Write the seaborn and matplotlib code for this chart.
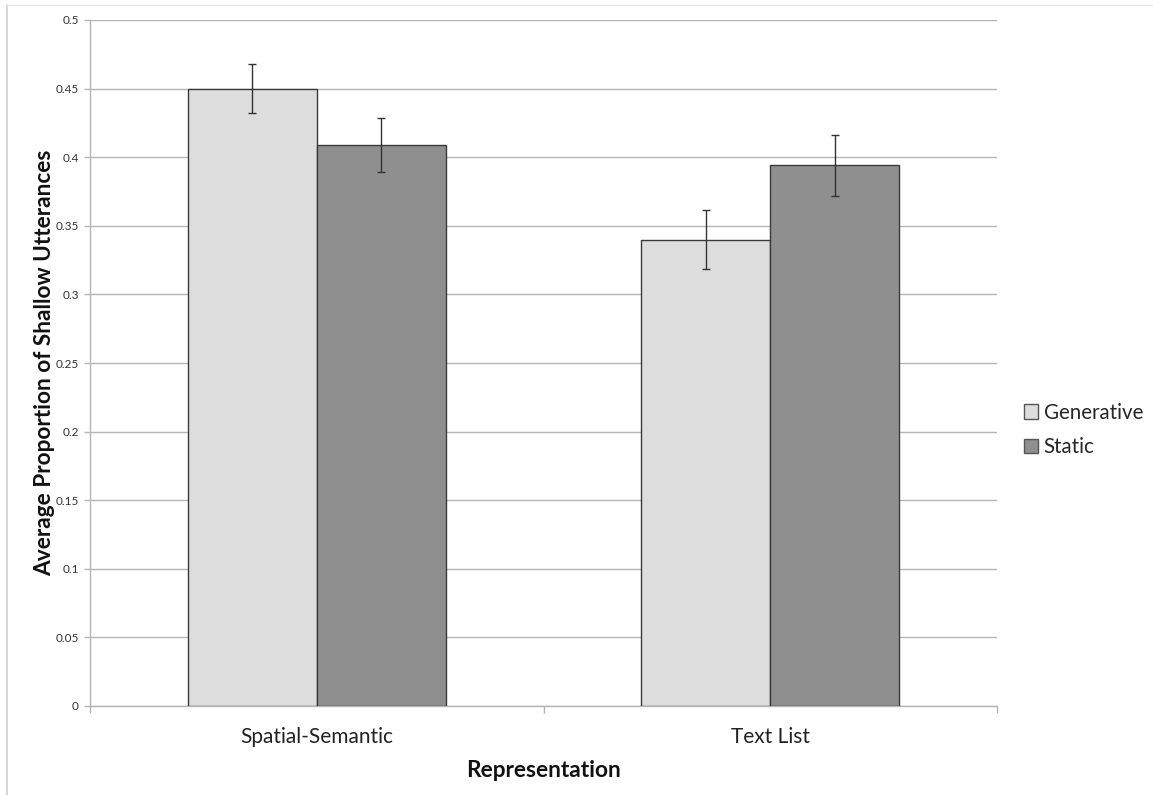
import matplotlib
matplotlib.use("Agg")
import matplotlib.pyplot as plt
import seaborn as sns
import pandas as pd
import numpy as np
from matplotlib.lines import Line2D
from matplotlib.patches import Patch

categories = ["Spatial-Semantic", "Text List"]
conditions = ["Generative", "Static"]
generative_vals = [0.450, 0.340]
static_vals = [0.409, 0.394]
generative_err = [0.018, 0.0215]
static_err = [0.0195, 0.022]
yticks = [0, 0.05, 0.1, 0.15, 0.2, 0.25, 0.3, 0.35, 0.4, 0.45, 0.5]
ytick_labels = ["0", "0.05", "0.1", "0.15", "0.2", "0.25", "0.3", "0.35", "0.4", "0.45", "0.5"]

colors = {"Generative": "#dddddd", "Static": "#8f8f8f"}

df = pd.DataFrame({
    "Representation": categories * 2,
    "Condition": ["Generative"] * 2 + ["Static"] * 2,
    "value": generative_vals + static_vals,
    "err": generative_err + static_err,
})

sns.set_theme(style="white")
plt.rcParams['font.family'] = ['Lato', 'DejaVu Sans']

fig = plt.figure(figsize=(11.53, 7.95), dpi=100)
ax = fig.add_axes([90/1153, 89/795, (997-90)/1153, (706-20)/795])

sns.barplot(data=df, x="Representation", y="value", hue="Condition",
            hue_order=conditions, order=categories, palette=colors,
            width=0.57, gap=0, errorbar=None, edgecolor="#3a3a3a",
            linewidth=1.0, ax=ax, legend=False, zorder=3)

# error bars at bar centres
for cont, cond in zip(ax.containers, conditions):
    sub = df[df["Condition"] == cond].set_index("Representation").loc[categories]
    xs = [p.get_x() + p.get_width() / 2 for p in cont.patches]
    ax.errorbar(xs, sub["value"].values, yerr=sub["err"].values, fmt="none",
                ecolor="#333333", elinewidth=1.0, capsize=3, capthick=1.0, zorder=4)

ax.set_xlim(-0.5, 1.5)
ax.set_ylim(0, 0.5)
ax.set_yticks(yticks)
ax.set_yticklabels(ytick_labels, fontsize=8.5)
ax.yaxis.grid(True, color="#b5b5b5", linewidth=1.0, zorder=0)
ax.set_axisbelow(True)
for s in ["top", "right"]:
    ax.spines[s].set_visible(False)
for s in ["left", "bottom"]:
    ax.spines[s].set_color("#b5b5b5")
    ax.spines[s].set_linewidth(1.0)

ax.tick_params(axis="y", which="major", left=True, length=4, width=1, color="#b5b5b5",
               labelcolor="#333333", pad=4)
ax.tick_params(axis="x", which="major", bottom=False, labelsize=15, labelcolor="#222222", pad=9)
ax.set_xticks([-0.5, 0.5, 1.5], minor=True)
ax.tick_params(axis="x", which="minor", bottom=True, length=5, width=1, color="#b5b5b5")

ax.set_xlabel("Representation", fontsize=16.3, fontweight="bold", color="#111111")
ax.set_ylabel("Average Proportion of Shallow Utterances", fontsize=16.3, fontweight="bold",
              color="#111111")
ax.xaxis.set_label_coords(0.5, -0.079)
ax.yaxis.set_label_coords(-0.039, 0.5)

handles = [Patch(facecolor=colors[c], edgecolor="#555555", linewidth=1.0) for c in conditions]
fig.legend(handles, conditions, loc="center left", bbox_to_anchor=(1024/1153, 1 - 430/795),
           frameon=False, fontsize=14.8, handlelength=0.7, handleheight=0.7,
           handletextpad=0.25, labelspacing=0.7, borderaxespad=0, borderpad=0)

# outer chart border (light)
fig.add_artist(Line2D([7/1153, 7/1153], [0, 1 - 5/795], transform=fig.transFigure,
                      color="#d0d0d0", linewidth=1.2))
fig.add_artist(Line2D([7/1153, 1], [1 - 5/795, 1 - 5/795], transform=fig.transFigure,
                      color="#e6e6e6", linewidth=1.0))

fig.savefig("out.png", dpi=100)
